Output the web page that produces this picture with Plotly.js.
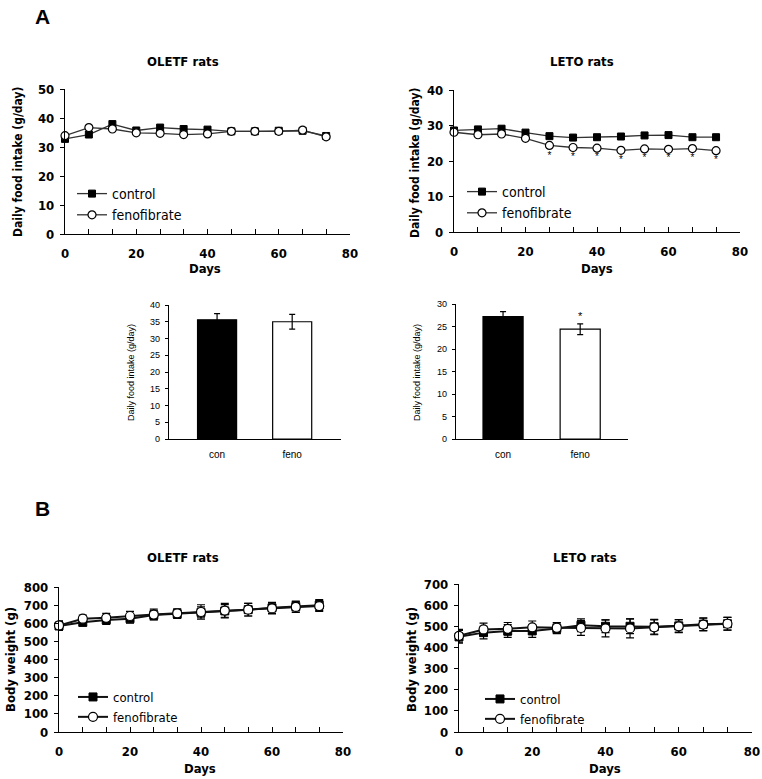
<!DOCTYPE html>
<html>
<head>
<meta charset="utf-8">
<script src="https://cdn.plot.ly/plotly-3.0.1.min.js"></script>
<style>html,body{margin:0;padding:0;background:#fff;}#chart{width:762px;height:779px;}</style>
</head>
<body>
<div id="chart"></div>
<script>
// ---- data ----
const days = [0, 6.7, 13.3, 20, 26.7, 33.3, 40, 46.7, 53.3, 60, 66.7, 73.3];

const oletfFoodControl = [32.8, 34.3, 37.9, 35.7, 36.7, 36.2, 36.0, 35.4, 35.4, 35.6, 35.6, 33.8];
const oletfFoodFeno    = [33.9, 36.7, 36.2, 34.9, 34.7, 34.3, 34.5, 35.4, 35.4, 35.4, 35.8, 33.5];

const letoFoodControl = [28.6, 28.9, 29.1, 28.0, 27.0, 26.6, 26.7, 26.9, 27.2, 27.3, 26.7, 26.7];
const letoFoodFeno    = [28.1, 27.4, 27.6, 26.4, 24.4, 23.8, 23.6, 23.0, 23.4, 23.3, 23.5, 22.9];
const letoSigDays  = [26.7, 33.3, 40, 46.7, 53.3, 60, 66.7, 73.3];
const letoSigLevel = [21.4, 20.9, 20.9, 20.1, 20.7, 20.7, 20.7, 20.1];

const barCats = ['con', 'feno'];
const oletfBarMean = [35.6, 35.0];
const oletfBarErr  = [1.8, 2.2];
const letoBarMean  = [27.2, 24.4];
const letoBarErr   = [1.1, 1.2];
const letoBarSig   = ['', '*'];

const oletfBwControl = [585, 605, 618, 625, 645, 652, 660, 668, 675, 685, 692, 700];
const oletfBwControlErr = [25, 20, 25, 25, 25, 25, 30, 35, 35, 30, 30, 30];
const oletfBwFeno = [588, 625, 630, 640, 648, 655, 662, 670, 675, 682, 690, 695];
const oletfBwFenoErr = [25, 20, 25, 25, 30, 25, 40, 40, 35, 30, 30, 30];

const letoBwControl = [450, 470, 478, 478, 490, 505, 500, 500, 498, 502, 510, 512];
const letoBwControlErr = [30, 30, 30, 30, 25, 30, 30, 35, 35, 30, 30, 30];
const letoBwFeno = [455, 485, 488, 495, 493, 492, 490, 490, 495, 500, 508, 512];
const letoBwFenoErr = [30, 30, 30, 30, 25, 35, 40, 45, 35, 30, 30, 30];

// ---- helpers ----
const W = 762, H = 779;
const px = v => v / W;
const py = v => 1 - v / H;
const FONT = 'DejaVu Sans Condensed, Liberation Sans Narrow, Arial Narrow, Liberation Sans, sans-serif';
const TITLEFONT = 'DejaVu Sans Condensed, DejaVu Sans, Verdana, sans-serif';
const SMALL = 'Liberation Sans, Arial, sans-serif';

function lineTraces(xa, ya, ctrl, feno, legend, opts) {
  opts = opts || {};
  const lw = opts.lw || 1.3;
  const col = opts.col || '#333';
  const ms = opts.ms || 7;
  const t1 = {
    x: days, y: ctrl, type: 'scatter', mode: 'lines+markers', name: 'control',
    xaxis: xa, yaxis: ya, legend: legend, cliponaxis: false,
    line: {color: col, width: lw},
    marker: {symbol: 'square', size: ms, color: '#000', line: {color: '#000', width: 1}}
  };
  const t2 = {
    x: days, y: feno, type: 'scatter', mode: 'lines+markers', name: 'fenofibrate',
    xaxis: xa, yaxis: ya, legend: legend, cliponaxis: false,
    line: {color: col, width: lw},
    marker: {symbol: 'circle', size: ms + 1, color: '#fff', line: {color: '#000', width: 1.2}}
  };
  if (opts.err1) {
    t1.error_y = {type: 'data', array: opts.err1, color: '#000', thickness: 1.2, width: 4};
    t2.error_y = {type: 'data', array: opts.err2, color: '#000', thickness: 1.2, width: 4};
  }
  return [t1, t2];
}

const data = [];
data.push(...lineTraces('x', 'y', oletfFoodControl, oletfFoodFeno, 'legend'));
data.push(...lineTraces('x2', 'y2', letoFoodControl, letoFoodFeno, 'legend2'));
data.push({
  x: letoSigDays, y: letoSigLevel, type: 'scatter', mode: 'text', text: letoSigDays.map(() => '*'),
  textfont: {family: SMALL, size: 10, color: '#000'}, xaxis: 'x2', yaxis: 'y2', showlegend: false, cliponaxis: false
});

// bar charts
data.push({
  x: barCats, y: oletfBarMean, type: 'bar', xaxis: 'x3', yaxis: 'y3', showlegend: false, width: 0.52,
  marker: {color: ['#000', '#fff'], line: {color: '#000', width: 1.2}},
  error_y: {type: 'data', array: oletfBarErr, color: '#000', thickness: 1.2, width: 3}
});
data.push({
  x: barCats, y: letoBarMean, type: 'bar', xaxis: 'x4', yaxis: 'y4', showlegend: false, width: 0.52,
  marker: {color: ['#000', '#fff'], line: {color: '#000', width: 1.2}},
  error_y: {type: 'data', array: letoBarErr, color: '#000', thickness: 1.2, width: 3}
});
data.push({
  x: barCats, y: letoBarMean.map((v, i) => v + letoBarErr[i] + 1.5), type: 'scatter', mode: 'text',
  text: letoBarSig, textfont: {family: SMALL, size: 11, color: '#000'},
  xaxis: 'x4', yaxis: 'y4', showlegend: false, cliponaxis: false
});

data.push(...lineTraces('x5', 'y5', oletfBwControl, oletfBwFeno, 'legend3',
  {lw: 2, col: '#111', ms: 8, err1: oletfBwControlErr, err2: oletfBwFenoErr}));
data.push(...lineTraces('x6', 'y6', letoBwControl, letoBwFeno, 'legend4',
  {lw: 2, col: '#111', ms: 8, err1: letoBwControlErr, err2: letoBwFenoErr}));

function timeX(domain, anchor) {
  return {
    domain: domain, anchor: anchor, range: [0, 80], tickvals: [0, 20, 40, 60, 80],
    showline: true, linecolor: '#000', linewidth: 1.2, showgrid: false, zeroline: false,
    ticks: 'inside', ticklen: 5, tickcolor: '#000', ticklabelstandoff: 7,
    tickfont: {family: FONT, size: 13, color: '#000', weight: 'bold'},
    minor: {tickmode: 'linear', tick0: 0, dtick: 80 / 12, ticks: 'inside', ticklen: 5, tickcolor: '#000'},
    fixedrange: true
  };
}
function valY(domain, anchor, range, dtick, size) {
  return {
    domain: domain, anchor: anchor, range: range, dtick: dtick, tick0: 0,
    showline: true, linecolor: '#000', linewidth: 1.2, showgrid: false, zeroline: false,
    ticks: 'outside', ticklen: 4, tickcolor: '#000', ticklabelstandoff: 3,
    tickfont: {family: FONT, size: size || 13, color: '#000', weight: 'bold'},
    fixedrange: true
  };
}
function barX(domain, anchor, range) {
  return {
    domain: domain, anchor: anchor, type: 'category', range: range,
    showline: true, linecolor: '#000', linewidth: 1.2, showgrid: false, zeroline: false,
    ticks: '', ticklabelstandoff: 6,
    tickfont: {family: SMALL, size: 10, color: '#000'}, fixedrange: true
  };
}
function barY(domain, anchor, range) {
  const a = valY(domain, anchor, range, 5, 9);
  a.tickfont = {family: SMALL, size: 9, color: '#000'};
  a.ticklen = 3;
  return a;
}

function legendAt(x, y, size) {
  return {
    x: x, y: y, xanchor: 'left', yanchor: 'top', bgcolor: 'rgba(0,0,0,0)',
    font: {family: FONT, size: size, color: '#000'}, itemwidth: 30, tracegroupgap: 0
  };
}

function ann(text, x, y, opts) {
  return Object.assign({
    text: text, xref: 'paper', yref: 'paper', x: px(x), y: py(y), showarrow: false,
    xanchor: 'center', yanchor: 'middle',
    font: {family: FONT, size: 13, color: '#000', weight: 'bold'}
  }, opts || {});
}

const titleFont = {family: TITLEFONT, size: 13, color: '#000', weight: 'bold'};
const annotations = [
  ann('A', 42, 17, {font: {family: SMALL, size: 21, color: '#000', weight: 'bold'}}),
  ann('B', 42, 508, {font: {family: SMALL, size: 21, color: '#000', weight: 'bold'}}),
  ann('OLETF rats', 183, 61, {font: titleFont}),
  ann('LETO rats', 582, 61, {font: titleFont}),
  ann('OLETF rats', 183, 557, {font: titleFont}),
  ann('LETO rats', 585, 557, {font: titleFont}),
  ann('Daily food intake (g/day)', 18, 162, {textangle: -90, font: {family: FONT, size: 12, color: '#000', weight: 'bold'}}),
  ann('Daily food intake (g/day)', 415, 162, {textangle: -90, font: {family: FONT, size: 12, color: '#000', weight: 'bold'}}),
  ann('Days', 205, 268),
  ann('Days', 597, 268),
  ann('Daily food intake (g/day)', 131, 373, {textangle: -90, font: {family: SMALL, size: 9, color: '#000'}}),
  ann('Daily food intake (g/day)', 417, 373, {textangle: -90, font: {family: SMALL, size: 9, color: '#000'}}),
  ann('Body weight (g)', 10, 660, {textangle: -90, font: {family: FONT, size: 13, color: '#000', weight: 'bold'}}),
  ann('Body weight (g)', 411, 660, {textangle: -90, font: {family: FONT, size: 13, color: '#000', weight: 'bold'}}),
  ann('Days', 200, 768),
  ann('Days', 605, 768)
];

const layout = {
  width: W, height: H, margin: {l: 0, r: 0, t: 0, b: 0},
  paper_bgcolor: '#fff', plot_bgcolor: '#fff', showlegend: true,
  xaxis: timeX([px(65), px(350)], 'y'),
  yaxis: valY([py(234), py(89)], 'x', [0, 50], 10),
  xaxis2: timeX([px(454), px(740)], 'y2'),
  yaxis2: valY([py(232), py(90)], 'x2', [0, 40], 10),
  xaxis3: barX([px(169), px(341)], 'y3', [-0.64, 1.65]),
  yaxis3: barY([py(439), py(305)], 'x3', [0, 40]),
  xaxis4: barX([px(456), px(628)], 'y4', [-0.61, 1.62]),
  yaxis4: barY([py(439), py(304)], 'x4', [0, 30]),
  xaxis5: timeX([px(59), px(343)], 'y5'),
  yaxis5: valY([py(732), py(587)], 'x5', [0, 800], 100),
  xaxis6: timeX([px(459), px(752)], 'y6'),
  yaxis6: valY([py(732), py(584)], 'x6', [0, 700], 100),
  legend: legendAt(px(72), py(178), 14),
  legend2: legendAt(px(462), py(176), 14),
  legend3: legendAt(px(73), py(682), 13),
  legend4: legendAt(px(480), py(684), 13),
  annotations: annotations
};

Plotly.newPlot('chart', data, layout, {displayModeBar: false, staticPlot: true});
</script>
</body>
</html>
